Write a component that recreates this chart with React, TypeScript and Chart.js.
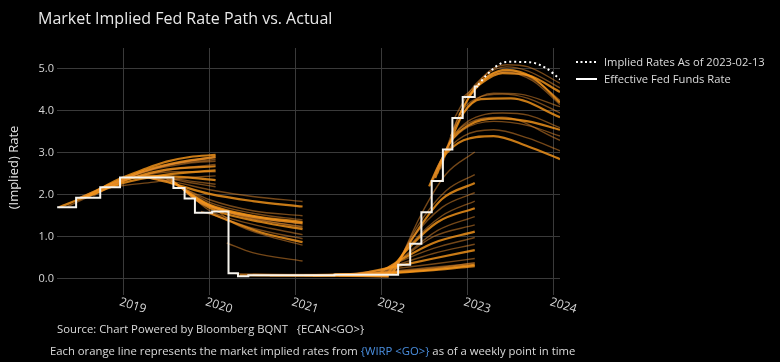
import React, { useEffect, useRef } from "react";
import { Chart, registerables } from "chart.js";

Chart.register(...registerables);

// ---- axis values ----
const xYears = [2019, 2020, 2021, 2022, 2023, 2024];
const yTicks = [0, 1, 2, 3, 4, 5];

// ---- Effective Fed Funds Rate (step changes: date in decimal years, new rate) ----
const effrDates = [2018.23, 2018.45, 2018.73, 2018.96, 2019.58, 2019.71, 2019.83, 2020.03, 2020.22, 2020.33, 2020.45, 2021.45, 2022.19, 2022.33, 2022.46, 2022.58, 2022.71, 2022.82, 2022.94, 2023.08, 2023.12];
const effrRates = [1.70, 1.93, 2.18, 2.41, 2.16, 1.91, 1.57, 1.60, 0.13, 0.055, 0.08, 0.09, 0.33, 0.83, 1.58, 2.33, 3.08, 3.83, 4.33, 4.58, 4.58];

// ---- Implied path as of 2023-02-13 ----
const impliedDates = [2023.12, 2023.22, 2023.39, 2023.49, 2023.72, 2023.91, 2024.07];
const impliedRates = [4.62, 4.86, 5.14, 5.17, 5.16, 5.02, 4.75];

// ---- weekly market-implied paths (pairs: date, rate) ----
const paths2018 = [
  [2018.25, 1.70, 2018.6, 1.98, 2019.0, 2.28, 2019.5, 2.48, 2020.07, 2.58],
  [2018.35, 1.72, 2018.7, 2.05, 2019.0, 2.33, 2019.5, 2.58, 2020.07, 2.72],
  [2018.45, 1.90, 2018.8, 2.2, 2019.2, 2.52, 2019.6, 2.74, 2020.07, 2.88],
  [2018.55, 1.93, 2018.9, 2.33, 2019.23, 2.6, 2019.5, 2.79, 2019.77, 2.9, 2020.07, 2.95],
  [2018.65, 1.97, 2019.0, 2.36, 2019.4, 2.66, 2020.07, 2.92],
  [2018.75, 2.15, 2019.1, 2.45, 2019.5, 2.7, 2020.07, 2.84],
  [2018.85, 2.2, 2019.1, 2.4, 2019.5, 2.6, 2020.07, 2.68],
  [2018.95, 2.3, 2019.2, 2.45, 2019.6, 2.55, 2020.07, 2.55],
  [2018.7, 2.12, 2019.0, 2.22, 2019.35, 2.3, 2019.7, 2.4, 2020.07, 2.45],
  [2019.0, 2.38, 2019.3, 2.45, 2019.7, 2.42, 2020.07, 2.35],
  [2019.05, 2.4, 2019.4, 2.42, 2019.8, 2.32, 2020.07, 2.25],
  [2019.1, 2.4, 2019.5, 2.38, 2019.8, 2.28, 2020.07, 2.19],
  [2018.5, 1.93, 2018.85, 2.25, 2019.25, 2.58, 2019.65, 2.78, 2020.07, 2.9],
  [2018.6, 1.95, 2018.95, 2.32, 2019.35, 2.6, 2019.75, 2.75, 2020.07, 2.8],
];

const paths2019 = [
  [2019.25, 2.41, 2019.6, 2.3, 2020.0, 2.12, 2020.5, 1.96, 2021.08, 1.84],
  [2019.3, 2.41, 2019.6, 2.25, 2020.0, 2.02, 2020.5, 1.85, 2021.08, 1.72],
  [2019.4, 2.41, 2019.7, 2.15, 2020.0, 1.88, 2020.5, 1.62, 2021.08, 1.5],
  [2019.5, 2.38, 2019.75, 2.1, 2020.0, 1.82, 2020.5, 1.56, 2021.08, 1.4],
  [2019.55, 2.35, 2019.8, 2.0, 2020.0, 1.76, 2020.5, 1.5, 2021.08, 1.35],
  [2019.6, 2.3, 2019.8, 1.95, 2020.0, 1.72, 2020.5, 1.46, 2021.08, 1.3],
  [2019.65, 2.2, 2019.85, 1.86, 2020.1, 1.65, 2020.5, 1.42, 2021.08, 1.25],
  [2019.7, 2.12, 2019.9, 1.8, 2020.1, 1.6, 2020.6, 1.35, 2021.08, 1.18],
  [2019.8, 1.95, 2020.0, 1.62, 2020.3, 1.4, 2020.7, 1.2, 2021.08, 1.05],
  [2019.9, 1.6, 2020.1, 1.48, 2020.5, 1.2, 2021.08, 0.95],
  [2020.0, 1.57, 2020.2, 1.4, 2020.6, 1.1, 2021.08, 0.87],
  [2020.1, 1.6, 2020.3, 1.3, 2020.7, 1.0, 2021.08, 0.8],
  [2020.2, 0.85, 2020.5, 0.62, 2021.08, 0.42],
  [2019.58, 2.3, 2019.8, 1.98, 2020.0, 1.74, 2020.5, 1.48, 2021.08, 1.32],
  [2019.62, 2.25, 2019.85, 1.9, 2020.1, 1.66, 2020.5, 1.44, 2021.08, 1.22],
];

const paths2020 = [
  [2020.3, 0.12, 2021.0, 0.1, 2022.08, 0.1],
  [2020.35, 0.08, 2021.0, 0.07, 2022.08, 0.06],
  [2020.5, 0.1, 2021.2, 0.09, 2022.08, 0.14],
  [2020.7, 0.06, 2021.5, 0.06, 2022.08, 0.05],
  [2021.45, 0.1, 2021.8, 0.1, 2022.08, 0.12],
  [2021.5, 0.06, 2021.8, 0.05, 2022.08, 0.04],
  [2021.6, 0.08, 2021.9, 0.07, 2022.08, 0.08],
];

const paths2021 = [
  [2021.1, 0.08, 2022.0, 0.12, 2022.6, 0.2, 2023.08, 0.3],
  [2021.3, 0.08, 2022.0, 0.15, 2022.6, 0.25, 2023.08, 0.38],
  [2021.5, 0.09, 2022.0, 0.2, 2022.6, 0.35, 2023.08, 0.48],
  [2021.7, 0.1, 2022.0, 0.22, 2022.6, 0.48, 2023.08, 0.68],
  [2021.8, 0.1, 2022.1, 0.28, 2022.6, 0.6, 2023.08, 0.82],
  [2021.9, 0.1, 2022.15, 0.35, 2022.6, 0.72, 2023.08, 0.98],
  [2021.95, 0.1, 2022.2, 0.42, 2022.6, 0.85, 2023.08, 1.12],
  [2022.0, 0.1, 2022.25, 0.5, 2022.6, 1.0, 2023.08, 1.28],
  [2022.03, 0.1, 2022.3, 0.6, 2022.65, 1.15, 2023.08, 1.48],
  [2022.06, 0.1, 2022.3, 0.7, 2022.65, 1.35, 2023.08, 1.68],
  [2022.08, 0.1, 2022.35, 0.85, 2022.7, 1.5, 2023.08, 1.85],
  [2022.1, 0.1, 2022.35, 0.95, 2022.7, 1.7, 2023.08, 2.05],
  [2022.12, 0.12, 2022.4, 1.1, 2022.7, 1.9, 2023.08, 2.28],
  [2022.14, 0.15, 2022.4, 1.2, 2022.75, 2.1, 2023.08, 2.48],
  [2022.16, 0.2, 2022.45, 1.5, 2022.75, 2.5, 2023.08, 3.02],
  [2021.2, 0.07, 2022.0, 0.13, 2022.6, 0.22, 2023.08, 0.33],
  [2021.4, 0.08, 2022.0, 0.16, 2022.6, 0.27, 2023.08, 0.36],
];

const paths2022 = [
  [2022.85, 3.85, 2023.0, 4.4, 2023.2, 4.85, 2023.45, 5.05, 2023.7, 4.95, 2024.07, 4.55],
  [2022.9, 3.9, 2023.05, 4.45, 2023.25, 4.85, 2023.45, 4.98, 2023.75, 4.8, 2024.07, 4.2],
  [2022.95, 4.34, 2023.1, 4.6, 2023.3, 4.9, 2023.5, 4.95, 2023.8, 4.7, 2024.07, 4.25],
  [2022.8, 3.4, 2022.95, 4.1, 2023.2, 4.75, 2023.45, 4.92, 2023.75, 4.72, 2024.07, 4.15],
  [2023.0, 4.34, 2023.15, 4.65, 2023.4, 4.9, 2023.7, 4.85, 2024.07, 4.45],
  [2023.05, 4.5, 2023.25, 4.95, 2023.45, 5.1, 2023.7, 5.05, 2024.07, 4.66],
  [2022.75, 3.1, 2022.9, 3.9, 2023.1, 4.3, 2023.4, 4.4, 2023.7, 4.3, 2024.07, 3.95],
  [2022.78, 3.2, 2022.95, 3.95, 2023.15, 4.28, 2023.5, 4.3, 2024.07, 3.85],
  [2022.82, 3.5, 2023.0, 4.1, 2023.3, 4.42, 2023.6, 4.4, 2024.07, 4.1],
  [2022.6, 2.35, 2022.75, 3.1, 2022.95, 3.55, 2023.3, 3.75, 2023.7, 3.65, 2024.07, 3.4],
  [2022.62, 2.4, 2022.78, 3.2, 2023.0, 3.65, 2023.35, 3.82, 2023.7, 3.75, 2024.07, 3.55],
  [2022.65, 2.5, 2022.8, 3.3, 2023.0, 3.7, 2023.4, 3.85, 2024.07, 3.3],
  [2022.58, 2.33, 2022.72, 2.95, 2022.95, 3.4, 2023.3, 3.55, 2023.7, 3.35, 2024.07, 3.05],
  [2022.55, 2.2, 2022.7, 2.85, 2022.95, 3.3, 2023.3, 3.4, 2023.7, 3.15, 2024.07, 2.85],
  [2022.68, 2.6, 2022.82, 3.35, 2023.0, 3.75, 2023.4, 3.95, 2023.7, 3.9, 2024.07, 3.6],
];

const pairsToPoints = (row: number[]) => {
  const pts: { x: number; y: number }[] = [];
  for (let i = 0; i < row.length; i += 2) pts.push({ x: row[i], y: row[i + 1] });
  return pts;
};

const FONT = '"Open Sans", "Noto Sans", sans-serif';

export default function App() {
  const canvasRef = useRef<HTMLCanvasElement | null>(null);

  useEffect(() => {
    const canvas = canvasRef.current;
    if (!canvas) return;

    const orangeSets: any[] = [];
    const allPaths = [...paths2018, ...paths2019, ...paths2020, ...paths2021, ...paths2022];
    allPaths.forEach((row, i) => {
      const bright = i % 3 === 0;
      orangeSets.push({
        data: pairsToPoints(row),
        borderColor: bright ? "rgba(250,152,28,0.8)" : "rgba(232,142,48,0.5)",
        borderWidth: bright ? 2.2 : 1.4,
        pointRadius: 0,
        cubicInterpolationMode: "monotone",
        fill: false,
      });
    });

    const xLabelPlugin = {
      id: "xLabels",
      afterDraw(chart: any) {
        const ctx = chart.ctx;
        const xs = chart.scales.x;
        ctx.save();
        ctx.font = `12px ${FONT}`;
        ctx.fillStyle = "#d8d8d8";
        ctx.textAlign = "left";
        ctx.textBaseline = "top";
        xYears.forEach((yr) => {
          const px = xs.getPixelForValue(yr);
          ctx.save();
          ctx.translate(px - 2, 296);
          ctx.rotate(0.3);
          ctx.fillText(String(yr), 0, 0);
          ctx.restore();
        });
        ctx.restore();
      },
    };

    const chart = new Chart(canvas, {
      type: "line",
      data: {
        datasets: [
          {
            data: impliedDates.map((d, i) => ({ x: d, y: impliedRates[i] })),
            borderColor: "#ffffff",
            borderWidth: 2,
            borderDash: [2, 3],
            pointRadius: 0,
            cubicInterpolationMode: "monotone",
          },
          {
            data: effrDates.map((d, i) => ({ x: d, y: effrRates[i] })),
            borderColor: "#f6f4ee",
            borderWidth: 2,
            pointRadius: 0,
            stepped: "before",
          },
          ...orangeSets,
        ],
      },
      options: {
        responsive: false,
        animation: false,
        parsing: false as any,
        layout: { padding: { left: 0, right: 220, top: 48, bottom: 0 } },
        plugins: { legend: { display: false }, tooltip: { enabled: false } },
        scales: {
          x: {
            type: "linear",
            min: 2018.228,
            max: 2024.07,
            border: { display: false },
            grid: { color: "#3a3a3a", lineWidth: 1, drawTicks: true, tickLength: 8 },
            ticks: { display: false },
            afterBuildTicks: (s: any) => {
              s.ticks = xYears.map((v) => ({ value: v }));
            },
            afterFit: (s: any) => {
              s.height = 75;
            },
          },
          y: {
            type: "linear",
            min: -0.2,
            max: 5.5,
            border: { display: false },
            grid: { color: "#3a3a3a", lineWidth: 1, drawTicks: false },
            ticks: {
              color: "#d6d6d6",
              font: { family: FONT, size: 11 },
              padding: 3,
              callback: (v: any) => Number(v).toFixed(1),
            },
            afterBuildTicks: (s: any) => {
              s.ticks = yTicks.map((v) => ({ value: v }));
            },
            afterFit: (s: any) => {
              s.width = 57;
            },
            title: {
              display: true,
              text: "(Implied) Rate",
              color: "#e2e2e2",
              font: { family: FONT, size: 13 },
              padding: { top: 6, bottom: 0 },
            },
          },
        },
      },
      plugins: [xLabelPlugin],
    });

    return () => chart.destroy();
  }, []);

  const textBase: React.CSSProperties = {
    position: "absolute",
    fontFamily: FONT,
    whiteSpace: "nowrap",
    color: "#dcdcdc",
  };

  return (
    <div
      style={{
        position: "fixed",
        left: 0,
        top: 0,
        width: 780,
        height: 362,
        background: "#000",
        overflow: "hidden",
      }}
    >
      <canvas ref={canvasRef} width={780} height={362} style={{ display: "block", position: "absolute", left: 0, top: 0 }} />
      <div style={{ ...textBase, left: 38, top: 8, fontSize: 16, lineHeight: "20px", color: "#e8e8e8" }}>
        Market Implied Fed Rate Path vs. Actual
      </div>
      <div style={{ ...textBase, left: 576, top: 55, fontSize: 11.2, lineHeight: "14px", display: "flex", alignItems: "center" }}>
        <svg width={21} height={6} style={{ marginRight: 7 }}>
          <line x1={0} y1={3} x2={21} y2={3} stroke="#ffffff" strokeWidth={2} strokeDasharray="2 2.5" />
        </svg>
        <span>Implied Rates As of 2023-02-13</span>
      </div>
      <div style={{ ...textBase, left: 576, top: 72, fontSize: 11.2, lineHeight: "14px", display: "flex", alignItems: "center" }}>
        <svg width={21} height={6} style={{ marginRight: 7 }}>
          <line x1={0} y1={3} x2={21} y2={3} stroke="#ffffff" strokeWidth={2} />
        </svg>
        <span>Effective Fed Funds Rate</span>
      </div>
      <div style={{ ...textBase, left: 57, top: 322, fontSize: 11.3, lineHeight: "14px" }}>
        Source: Chart Powered by Bloomberg BQNT&nbsp;&nbsp;&nbsp;{"{ECAN<GO>}"}
      </div>
      <div style={{ ...textBase, left: 50, top: 344, fontSize: 11.3, lineHeight: "14px" }}>
        Each orange line represents the market implied rates from{" "}
        <span style={{ color: "#4a8fe0" }}>{"{WIRP <GO>}"}</span> as of a weekly point in time
      </div>
    </div>
  );
}
